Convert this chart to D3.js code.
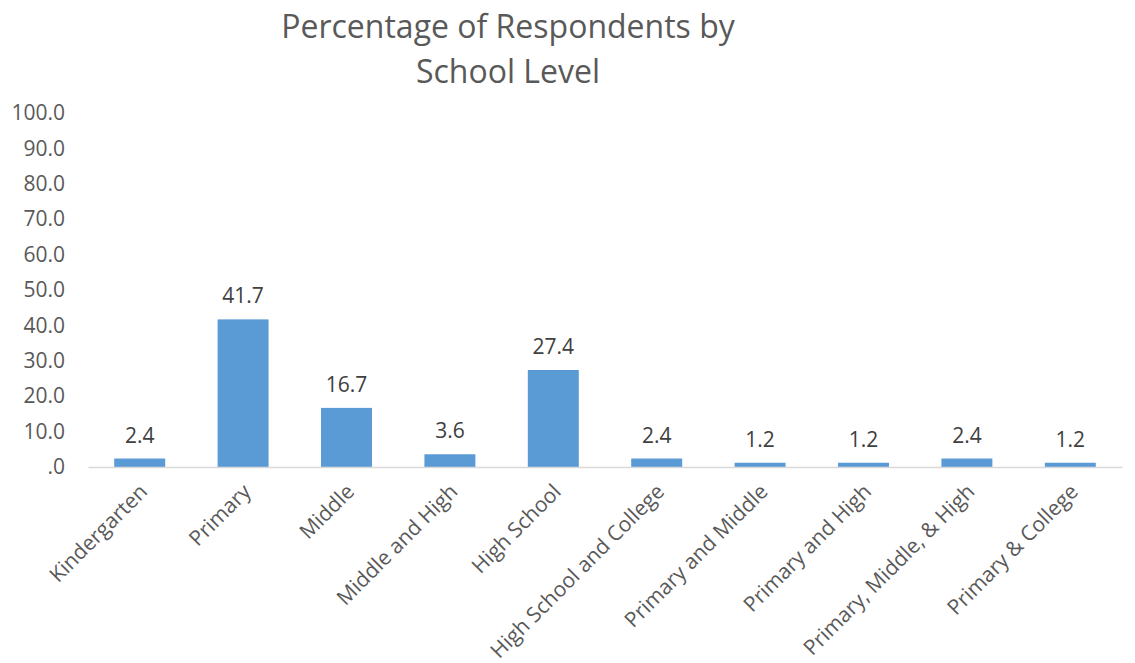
<!DOCTYPE html>
<html>
<head>
<meta charset="utf-8">
<script src="https://cdn.jsdelivr.net/npm/d3@7"></script>
<style>
  body { margin: 0; background: #fff; }
  svg text { font-family: "Open Sans", sans-serif; }
</style>
</head>
<body>
<svg id="chart"></svg>
<script>
const categories = ['Kindergarten', 'Primary', 'Middle', 'Middle and High', 'High School',
    'High School and College', 'Primary and Middle', 'Primary and High',
    'Primary, Middle, & High', 'Primary & College'];
const values = [2.4, 41.7, 16.7, 3.6, 27.4, 2.4, 1.2, 1.2, 2.4, 1.2];
const yTicks = [0, 10, 20, 30, 40, 50, 60, 70, 80, 90, 100];
const titleLines = ['Percentage of Respondents by', 'School Level'];

const fullWidth = 1135;
const fullHeight = 663;
const margin = {top: 113, right: 13, bottom: 196, left: 88};
const width = fullWidth - margin.left - margin.right;
const height = fullHeight - margin.top - margin.bottom;

const svg = d3.select('#chart')
    .attr('width', fullWidth)
    .attr('height', fullHeight);

const fmt = d => d === 0 ? '.0' : d3.format('.1f')(d);

const x = d3.scaleBand()
    .domain(categories)
    .range([0, width])
    .paddingInner(0.507)
    .paddingOuter(0.2535);

const y = d3.scaleLinear()
    .domain([0, 100])
    .range([height, 0]);

// title
svg.append('g')
    .attr('class', 'title')
    .selectAll('text')
    .data(titleLines)
    .enter().append('text')
        .attr('x', 508)
        .attr('y', (d, i) => 38 + i * 45)
        .attr('text-anchor', 'middle')
        .attr('fill', '#595959')
        .style('font-size', '32px')
        .text(d => d);

const g = svg.append('g')
    .attr('transform', `translate(${margin.left}, ${margin.top})`);

// y axis labels, no line
const yAxis = g.append('g')
    .call(d3.axisLeft(y).tickValues(yTicks).tickFormat(fmt).tickSize(0).tickPadding(23));
yAxis.select('.domain').remove();
yAxis.selectAll('text')
    .attr('fill', '#595959')
    .style('font-size', '21px');

// bars
g.append('g')
    .attr('class', 'bars')
    .selectAll('rect')
    .data(values)
    .enter().append('rect')
        .attr('x', (d, i) => x(categories[i]))
        .attr('y', d => y(d))
        .attr('width', x.bandwidth())
        .attr('height', d => height - y(d))
        .attr('fill', '#5b9bd5');

// value labels
g.append('g')
    .attr('class', 'labels')
    .selectAll('text')
    .data(values)
    .enter().append('text')
        .attr('x', (d, i) => x(categories[i]) + x.bandwidth() / 2)
        .attr('y', d => y(d) - 16)
        .attr('text-anchor', 'middle')
        .attr('fill', '#404040')
        .style('font-size', '21px')
        .text(d => d3.format('.1f')(d));

// x axis
const xAxis = g.append('g')
    .attr('transform', `translate(0, ${height})`)
    .call(d3.axisBottom(x).tickSize(0).tickPadding(0));
xAxis.select('.domain')
    .attr('stroke', '#d9d9d9')
    .attr('stroke-width', 1.5);
xAxis.selectAll('text')
    .attr('fill', '#595959')
    .style('font-size', '21px')
    .attr('text-anchor', 'end')
    .attr('dy', null)
    .attr('transform', 'translate(9, 26) rotate(-45)');
</script>
</body>
</html>
